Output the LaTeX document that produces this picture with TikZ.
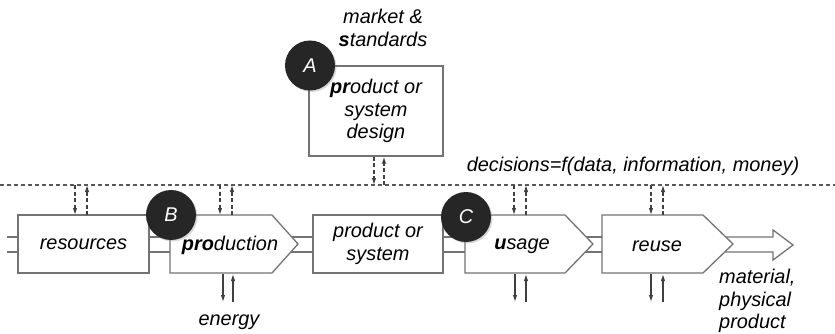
\documentclass[tikz,border=0pt]{standalone}
\usepackage{fontspec}
\setmainfont{Liberation Sans}
\usetikzlibrary{arrows.meta,shadows}

\begin{document}
\begin{tikzpicture}[x=1pt,y=-1pt,
  every node/.style={font=\itshape\fontsize{19.9}{22.5}\selectfont, inner sep=0pt},
  frame/.style={draw=black!55, line width=1.3pt, fill=white},
  pipe/.style={draw=black!55, line width=1.3pt},
  badge/.style={circle, fill=black!85, minimum size=50pt, inner sep=0pt, text=white,
    drop shadow={opacity=0.3, shadow xshift=1.5pt, shadow yshift=-1.5pt}},
  ctl/.style={black!75, line width=1.1pt, dash pattern=on 4pt off 2.5pt, -{Latex[length=7pt,width=4.5pt]}},
  flowarrow/.style={black!75, line width=1.1pt, -{Latex[length=7pt,width=4.5pt]}},
]
\useasboundingbox (0,0) rectangle (835,334);

% decision bus
\coordinate (busL) at (0,185);
\coordinate (busR) at (835,185);
\draw[black!65, line width=1.1pt, dash pattern=on 4pt off 3pt] (busL) -- (busR);

% design block above the bus
\node[frame, minimum width=134pt, minimum height=90pt, align=center] (design) at (376,111)
  {\textbf{pr}oduct or\\system\\design};
\node[align=center] (market) at (383,28) {market \&\\\textbf{s}tandards};
\draw[ctl] (design.south -| 374,0) -- (busL -| 374,0);
\draw[ctl] (busL -| 384,0) -- (design.south -| 384,0);

% material flow: free ends on the left and the output arrow
\coordinate (inA) at (7,237);
\coordinate (inB) at (7,252);
\node[frame, minimum width=131pt, minimum height=58pt] (res) at (83.5,244) {resources};
\draw[pipe] (inA) -- (inA -| res.west);
\draw[pipe] (inB) -- (inB -| res.west);

% production pentagon
\coordinate (prodW) at (170,244);
\coordinate (prodT) at (298,244);
\draw[pipe] (res.east |- inA) -- (prodW |- inA);
\draw[pipe] (res.east |- inB) -- (prodW |- inB);

\node[frame, minimum width=130pt, minimum height=58pt, align=center] (prodsys) at (378,244)
  {product or\\system};
\draw[pipe] (285,237) -- (prodsys.west |- inA);
\draw[pipe] (285,252) -- (prodsys.west |- inB);

\draw[frame] (170,215) -- (272,215) -- (prodT) -- (272,273) -- (170,273) -- cycle;
\node (prod) at (230,245) {\textbf{pro}duction};

% usage and reuse pentagons
\coordinate (useW) at (465,244);
\coordinate (reuseW) at (602,244);
\draw[pipe] (prodsys.east |- inA) -- (useW |- inA);
\draw[pipe] (prodsys.east |- inB) -- (useW |- inB);
\draw[pipe] (580,237) -- (reuseW |- inA);
\draw[pipe] (580,252) -- (reuseW |- inB);

\coordinate (outTip) at (793,245);
\draw[pipe, line join=miter] (715,237) -- (773,237) -- (773,230) -- (outTip) -- (773,260) -- (773,252) -- (715,252);

\draw[frame] (465,215) -- (565,215) -- (593,244) -- (565,273) -- (465,273) -- cycle;
\node (usage) at (522,246) {\textbf{u}sage};
\draw[frame] (602,215) -- (703,215) -- (733,244) -- (703,273) -- (602,273) -- cycle;
\node (reuse) at (657,246) {reuse};

% control arrows between the bus and the blocks
\foreach \d/\u in {75/87, 220/232, 514/526, 651/663}{
  \draw[ctl] (\d,185) -- (\d,215);
  \draw[ctl] (\u,215) -- (\u,185);
}
% resource arrows below the blocks
\foreach \d/\u in {223/233, 515/526, 651/663}{
  \draw[flowarrow] (\d,274) -- (\d,302);
  \draw[flowarrow] (\u,302) -- (\u,274);
}

% labels
\node (energy) at (229,322) {energy};
\node[anchor=west, align=left] (material) at (719,301) {material,\\physical\\product};
\node (decisions) at (633,166) {decisions=f(data, information, money)};

% badges
\node[badge] (A) at (310,65.5) {A};
\node[badge] (B) at (171,215) {B};
\node[badge] (C) at (466,217) {C};
\end{tikzpicture}
\end{document}
